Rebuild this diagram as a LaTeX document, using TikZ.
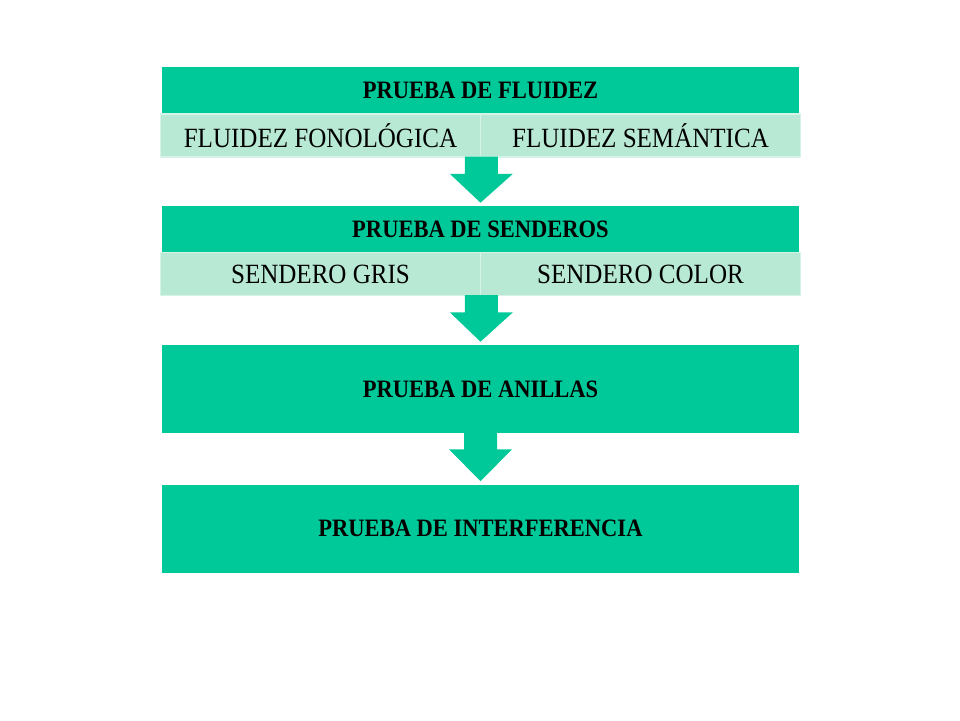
\documentclass[tikz,border=0pt]{standalone}
\usepackage{fontspec}
\setmainfont[FakeStretch=0.9]{Liberation Serif}
\usetikzlibrary{calc}
\definecolor{verdeosc}{RGB}{0,201,153}
\definecolor{verdecla}{RGB}{184,233,213}
\definecolor{bordecla}{RGB}{214,243,232}
\newcommand{\flechabaja}[2]{%
	\fill[flecha] ($(#1)+(-0.4125,0.03)$) -- ($(#1)+(0.4125,0.03)$) -- ++(0,-0.43) -- ++(0.375,0)
	-- ($(#2.north)+(0,0.075)$) -- ($(#1)+(-0.7875,-0.4)$) -- ++(0.375,0) -- cycle;}
\begin{document}
\begin{tikzpicture}[line cap=round,line join=round,x=1.0cm,y=1.0cm,
	prueba/.style={fill=verdeosc,minimum width=15.925cm,inner sep=0pt,font=\fontsize{17.8}{21}\selectfont\bfseries},
	subprueba/.style={fill=verdecla,draw=bordecla,line width=1.2pt,minimum width=8.0cm,minimum height=1.075cm,inner sep=0pt,font=\fontsize{19.8}{23}\selectfont},
	flecha/.style={fill=verdeosc}]
		\useasboundingbox (0,0) rectangle (24,18);
		% primer bloque
		\node[prueba,minimum height=1.175cm] (fluidez) at (12.0125,15.7375) {PRUEBA DE FLUIDEZ};
		\node[subprueba] (fonologica) at (8.0125,14.6125) {FLUIDEZ FONOLÓGICA};
		\node[subprueba] (semantica) at (16.0125,14.6125) {FLUIDEZ SEMÁNTICA};
		% segundo bloque
		\node[prueba,minimum height=1.175cm] (senderos) at (12.0125,12.2625) {PRUEBA DE SENDEROS};
		\node[subprueba] (gris) at (8.0125,11.15) {SENDERO GRIS};
		\node[subprueba] (color) at (16.0125,11.15) {SENDERO COLOR};
		% tercer y cuarto bloque
		\node[prueba,minimum height=2.2cm] (anillas) at (12.0125,8.275) {PRUEBA DE ANILLAS};
		\node[prueba,minimum height=2.2cm] (interferencia) at (12.0125,4.7875) {PRUEBA DE INTERFERENCIA};
		% flechas
		\flechabaja{fonologica.south east}{senderos}
		\flechabaja{gris.south east}{anillas}
		\flechabaja{anillas.south}{interferencia}
	\end{tikzpicture}
\end{document}
